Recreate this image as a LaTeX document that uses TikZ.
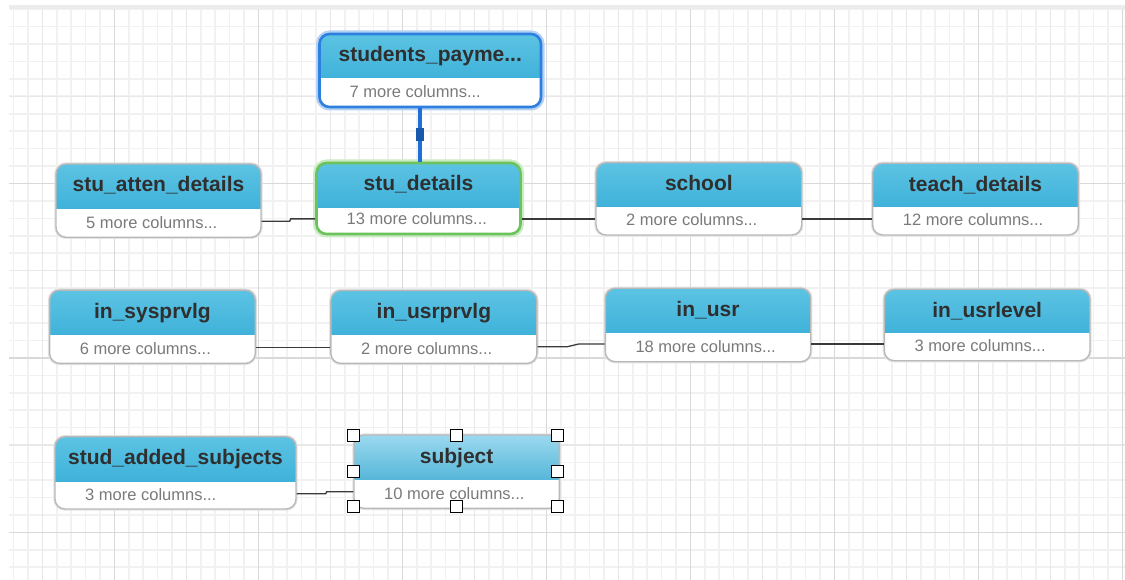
\documentclass[tikz,border=0pt]{standalone}
\usepackage{fontspec}
\setmainfont{Liberation Sans}
\usetikzlibrary{fit}

\definecolor{gridminor}{HTML}{F1F1F1}
\definecolor{gridmid}{HTML}{E8E8E8}
\definecolor{gridmajor}{HTML}{D9D9D9}
\definecolor{band}{HTML}{ECECEC}
\definecolor{hdtop}{HTML}{5CC3E3}
\definecolor{hdbot}{HTML}{2EA7D4}
\definecolor{seltop}{HTML}{9BD9EE}
\definecolor{selbot}{HTML}{2AA0CC}
\definecolor{framecol}{HTML}{B9B9B9}
\definecolor{frameglow}{HTML}{E4E4E4}
\definecolor{bluesel}{HTML}{2D7FE0}
\definecolor{blueglow}{HTML}{B4D0F3}
\definecolor{greensel}{HTML}{6CC35B}
\definecolor{greenglow}{HTML}{CBEBC4}
\definecolor{titlecol}{HTML}{2F2F2F}
\definecolor{bodycol}{HTML}{7A7A7A}
\definecolor{linkcol}{HTML}{3A3A3A}
\definecolor{linkblue}{HTML}{1E6FD9}

\tikzset{
  tbl/.style={inner sep=0pt, draw=framecol, line width=1.4pt, rounded corners=10pt,
    fill=white, preaction={draw=frameglow, line width=3.4pt}},
  hdshade/.style={top color=hdtop, bottom color=hdbot},
  payframe/.style={draw=bluesel, line width=2.6pt, preaction={draw=blueglow, line width=7pt}},
  detframe/.style={draw=greensel, line width=2.6pt, preaction={draw=greenglow, line width=7pt}},
  titletxt/.style={anchor=base, inner sep=0pt, text=titlecol,
    font=\bfseries\fontsize{21}{21}\selectfont},
  bodytxt/.style={anchor=base west, inner sep=0pt, text=bodycol,
    font=\fontsize{16.5}{16.5}\selectfont},
  link/.style={draw=linkcol, line width=1.3pt},
  bluelink/.style={draw=linkblue, line width=3.8pt},
  linkmark/.style={rectangle, fill=linkblue!80!black, inner sep=0pt,
    minimum width=8pt, minimum height=13pt},
  handle/.style={rectangle, draw=black, fill=white, line width=1.3pt,
    inner sep=0pt, minimum size=12pt},
}

% table card: [style] name, left, top, right, bottom, header height, title, body
\newcommand\dbtable[9][]{%
  \node[tbl, fit={(#3,#4) (#5,#6)},
    path picture={\shade[hdshade, sharp corners]
      (path picture bounding box.north west) rectangle
      ([yshift=-#7pt]path picture bounding box.north east);},
    #1] (#2) {};
  \node[titletxt] (#2-title) at ({(#3+#5)/2},{#4+28}) {#8};
  \node[bodytxt] (#2-body) at ({#3+30},{#6-9}) {#9};
}

\begin{document}
\begin{tikzpicture}[x=1pt, y=-1pt]
\useasboundingbox (0,0) rectangle (1125,580);
\fill[white] (0,0) rectangle (1125,580);

% background grid
\foreach \k in {0,...,77}
  \draw[gridminor, line width=1.6pt] ({13.5+14.4*\k},9) -- ({13.5+14.4*\k},580);
\foreach \j in {0,...,32}
  \draw[gridminor, line width=1.6pt] (9,{9.1+17.44*\j}) -- (1125,{9.1+17.44*\j});
\foreach \m in {0,...,7}
  \draw[gridmid, line width=1.5pt] ({42.3+144*\m},9) -- ({42.3+144*\m},580);
\foreach \y in {96.3,270.7,445.1}
  \draw[gridmid, line width=1.5pt] (9,\y) -- (1125,\y);
\foreach \m in {0,...,7}
  \draw[gridmajor, line width=1.4pt] ({114.3+144*\m},9) -- ({114.3+144*\m},580);
\foreach \y in {183.5,357.9,532.3}
  \draw[gridmajor, line width=1.4pt] (9,\y) -- (1125,\y);
\fill[band] (9,5.5) rectangle (1125,9.5);

% tables
\dbtable[payframe]{pay}{319.5}{34}{541}{107}{44}{students\_payme...}{7 more columns...}
\dbtable[detframe]{sd}{316.5}{163}{520.5}{234}{44.5}{stu\_details}{13 more columns...}
\dbtable{att}{56}{164}{261}{237.3}{44.3}{stu\_atten\_details}{5 more columns...}
\dbtable{school}{596}{162.7}{801.7}{235}{44}{school}{2 more columns...}
\dbtable{teach}{872.7}{163.3}{1078.3}{235}{43.4}{teach\_details}{12 more columns...}
\dbtable{sys}{49.6}{290.1}{255.3}{363.4}{44.6}{in\_sysprvlg}{6 more columns...}
\dbtable{uprv}{330.9}{290.5}{536.9}{363.4}{44.2}{in\_usrprvlg}{2 more columns...}
\dbtable{usr}{605.3}{288.3}{810.7}{361.7}{44.4}{in\_usr}{18 more columns...}
\dbtable{ulev}{884.3}{289.3}{1090}{360.7}{43.4}{in\_usrlevel}{3 more columns...}
\dbtable{added}{55}{436.7}{296}{509}{44.3}{stud\_added\_subjects}{3 more columns...}
\dbtable[hdshade/.style={top color=seltop, bottom color=selbot}]{subj}{354}{435}{559.3}{508.3}{44.3}{subject}{10 more columns...}

% relations
\path ([xshift=1.5pt]sd.north) coordinate (b1);
\draw[bluelink] (b1) -- (b1 |- pay.south) node[pos=0.5, linkmark] (paymark) {};

\draw[link] ([yshift=16.7pt]att.south east) -- ++(28,0) -- ++(1,-2.4) coordinate (j1) -- (j1 -| sd.west);
\path ([yshift=16.2pt]sd.south east) coordinate (c1);
\draw[link] (c1) -- (c1 -| school.west);
\path ([yshift=16.7pt]school.south east) coordinate (c2);
\draw[link] (c2) -- (c2 -| teach.west);
\path ([yshift=16.5pt]sys.south east) coordinate (c3);
\draw[link] (c3) -- (c3 -| uprv.west);
\draw[link] ([yshift=17.4pt]uprv.south east) -- ++(29.8,0) -- ++(11.3,-2.7) coordinate (j2) -- (j2 -| usr.west);
\path ([yshift=18.4pt]usr.south east) coordinate (c4);
\draw[link] (c4) -- (c4 -| ulev.west);
\draw[link] ([yshift=16pt]added.south east) -- ++(29,0) -- ++(1,-2) coordinate (j3) -- (j3 -| subj.west);

% selection handles
\foreach \a/\dx/\dy/\n in {north west/0/-1/nw, north/0/-1/n, north east/-2.6/-1/ne,
    west/0/0/w, east/-2.6/0/e, south west/0/2.3/sw, south/0/2.3/s, south east/-2.6/2.3/se}
  \node[handle] (subj-\n) at ([shift={(\dx pt,\dy pt)}]subj.\a) {};
\end{tikzpicture}
\end{document}
